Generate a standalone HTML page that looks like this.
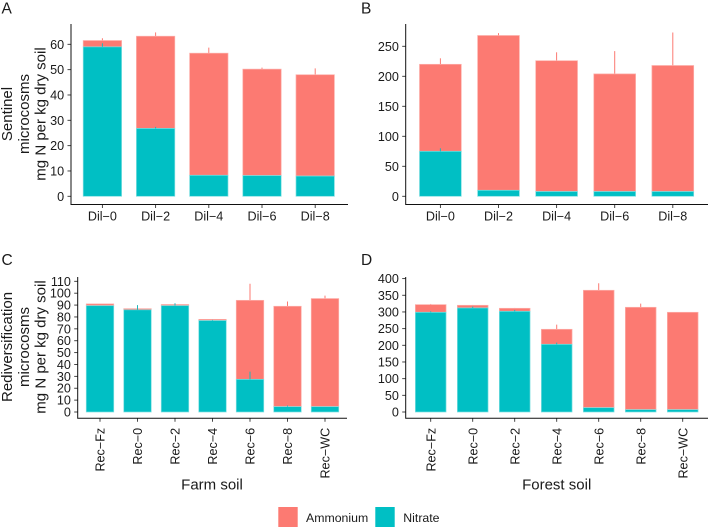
<!DOCTYPE html>
<html>
<head>
<meta charset="utf-8">
<style>
html,body{margin:0;padding:0;background:#fff;width:708px;height:528px;overflow:hidden}
svg{display:block}
text{font-family:"Liberation Sans",sans-serif;fill:#1a1a1a}
</style>
</head>
<body>
<svg id="chart" width="708" height="528" viewBox="0 0 708 528" xmlns="http://www.w3.org/2000/svg">
  <text x="1.5" y="13.5" font-size="15.5">A</text>
  <text x="361" y="13.5" font-size="15.5">B</text>
  <text x="1.5" y="265" font-size="15.5">C</text>
  <text x="361" y="265" font-size="15.5">D</text>

  <g font-size="15" text-anchor="middle">
    <text transform="translate(12,114) rotate(-90)">Sentinel</text>
    <text transform="translate(29,114) rotate(-90)">microcosms</text>
    <text transform="translate(45.5,114) rotate(-90)">mg N per kg dry soil</text>
  </g>
  <g font-size="15" text-anchor="middle">
    <text transform="translate(12,347) rotate(-90)">Rediversification</text>
    <text transform="translate(29,347) rotate(-90)">microcosms</text>
    <text transform="translate(45.5,347) rotate(-90)">mg N per kg dry soil</text>
  </g>

  <text x="212" y="489.5" font-size="15" text-anchor="middle">Farm soil</text>
  <text x="556.7" y="489.5" font-size="15" text-anchor="middle">Forest soil</text>

  <g>
    <rect x="278.3" y="507" width="19.4" height="20" fill="#FC7A72"></rect>
    <text x="306" y="521.8" font-size="12.3">Ammonium</text>
    <rect x="375.3" y="507" width="19.4" height="20" fill="#00BFC4"></rect>
    <text x="403.3" y="521.8" font-size="12.3">Nitrate</text>
  </g>
</svg>
<script>
var dilCategories = ['Dil\u22120','Dil\u22122','Dil\u22124','Dil\u22126','Dil\u22128'];
var recCategories = ['Rec\u2212Fz','Rec\u22120','Rec\u22122','Rec\u22124','Rec\u22126','Rec\u22128','Rec\u2212WC'];

var aNitrate = [59, 26.8, 8.3, 8.2, 8];
var aTotal = [61.5, 63.2, 56.5, 50.2, 48];
var aNitrateUpper = [60.4, 27.4, 8.3, 8.2, 8];
var aTotalUpper = [62.4, 64.7, 58.7, 50.8, 50.5];
var aTicks = [0, 10, 20, 30, 40, 50, 60];

var bNitrate = [75, 10, 8, 8, 8];
var bTotal = [220, 268, 226, 204, 218];
var bNitrateUpper = [80, 10, 8, 8, 8];
var bTotalUpper = [230, 272, 240, 242, 273];
var bTicks = [0, 50, 100, 150, 200, 250];

var cNitrate = [89.5, 86, 89.5, 77, 27.5, 4.5, 4.5];
var cTotal = [91, 87, 90.5, 78, 94, 89, 95.5];
var cNitrateUpper = [89.5, 90, 91.5, 77.5, 34, 5.5, 4.5];
var cTotalUpper = [91, 87, 90.5, 78, 108, 93, 98];
var cTicks = [0, 10, 20, 30, 40, 50, 60, 70, 80, 90, 100, 110];

var dNitrate = [299, 312, 302, 203, 13, 7, 7];
var dTotal = [322, 320, 311, 248, 365, 314, 299];
var dNitrateUpper = [302, 316, 306, 208, 13, 7, 7];
var dTotalUpper = [324, 321, 312, 262, 386, 325, 299];
var dTicks = [0, 50, 100, 150, 200, 250, 300, 350, 400];

var NS = 'http://www.w3.org/2000/svg';
var svg = document.getElementById('chart');
var AMM = '#FC7A72', NIT = '#00BFC4', AMM_EDGE = '#FDB0AB', NIT_EDGE = '#7FDFE1';

function make(parent, tag, attrs) {
  var el = document.createElementNS(NS, tag);
  for (var k in attrs) el.setAttribute(k, attrs[k]);
  parent.appendChild(el);
  return el;
}

function panel(id, cfg, cats, nitrate, total, nitrateUpper, totalUpper, ticks) {
  var y = function (v) { return cfg.y0 - (v - 0) * cfg.scale; };
  var x = function (i) { return cfg.x0 + i * cfg.step; };
  var g = make(svg, 'g', {});
  
  

  cats.forEach(function (c, i) {
    var half = cfg.barW / 2;
    var eT = make(g, 'line', {x1: x(i), x2: x(i), y1: y(total[i]), y2: y(totalUpper[i]), stroke: '#FC7A72', 'stroke-width': 1});
    
    
    var rA = make(g, 'rect', {x: x(i) - half, y: y(total[i]), width: cfg.barW, height: y(nitrate[i]) - y(total[i]), fill: AMM, stroke: AMM_EDGE, 'stroke-width': 0.7});
    
    
    var rN = make(g, 'rect', {x: x(i) - half, y: y(nitrate[i]), width: cfg.barW, height: y(0) - y(nitrate[i]), fill: NIT, stroke: NIT_EDGE, 'stroke-width': 0.7});
    
    
    var eN = make(g, 'line', {x1: x(i), x2: x(i), y1: y(nitrate[i]), y2: y(nitrateUpper[i]), stroke: '#1FB5BA', 'stroke-width': 1});
    
    

    var t = make(g, 'line', {x1: x(i), x2: x(i), y1: cfg.axisY, y2: cfg.axisY + 3.5, stroke: '#333', 'stroke-width': 0.9});
    
    
    var lab;
    if (cfg.rotate) {
      lab = make(g, 'text', {'font-size': 12.6, 'text-anchor': 'end', transform: 'translate(' + (x(i) + 4.6) + ',' + (cfg.axisY + 9.5) + ') rotate(-90)'});
    } else {
      lab = make(g, 'text', {x: x(i), y: cfg.axisY + 16, 'font-size': 12.6, 'text-anchor': 'middle'});
    }
    lab.textContent = c;
    
    
  });

  ticks.forEach(function (v) {
    var t = make(g, 'line', {x1: cfg.axisX - 3.5, x2: cfg.axisX, y1: y(v), y2: y(v), stroke: '#333', 'stroke-width': 0.9});
    
    
    var lab = make(g, 'text', {x: cfg.axisX - 6.8, y: y(v) + 4.5, 'font-size': 12.6, 'text-anchor': 'end'});
    lab.textContent = String(v);
    
    
  });

  var ax = make(g, 'path', {d: 'M' + cfg.axisX + ' ' + cfg.top + 'V' + cfg.axisY + 'H' + cfg.right, fill: 'none', stroke: '#111', 'stroke-width': 1});
  
  
}

panel('a', {x0: 102.4, step: 53.2, barW: 38.4, y0: 196.3, scale: 2.533, axisX: 71, axisY: 204.5, top: 24, right: 348, rotate: false},
  dilCategories, aNitrate, aTotal, aNitrateUpper, aTotalUpper, aTicks);
panel('b', {x0: 440.4, step: 58.1, barW: 41.8, y0: 196.3, scale: 0.6, axisX: 405.7, axisY: 204.5, top: 24, right: 708, rotate: false},
  dilCategories, bNitrate, bTotal, bNitrateUpper, bTotalUpper, bTicks);
panel('c', {x0: 100, step: 37.5, barW: 27.5, y0: 412, scale: 1.188, axisX: 77.7, axisY: 418.3, top: 277, right: 347, rotate: true},
  recCategories, cNitrate, cTotal, cNitrateUpper, cTotalUpper, cTicks);
panel('d', {x0: 430.7, step: 42, barW: 30.7, y0: 412, scale: 0.3335, axisX: 405.7, axisY: 418.3, top: 277, right: 708, rotate: true},
  recCategories, dNitrate, dTotal, dNitrateUpper, dTotalUpper, dTicks);
</script>
</body>
</html>
